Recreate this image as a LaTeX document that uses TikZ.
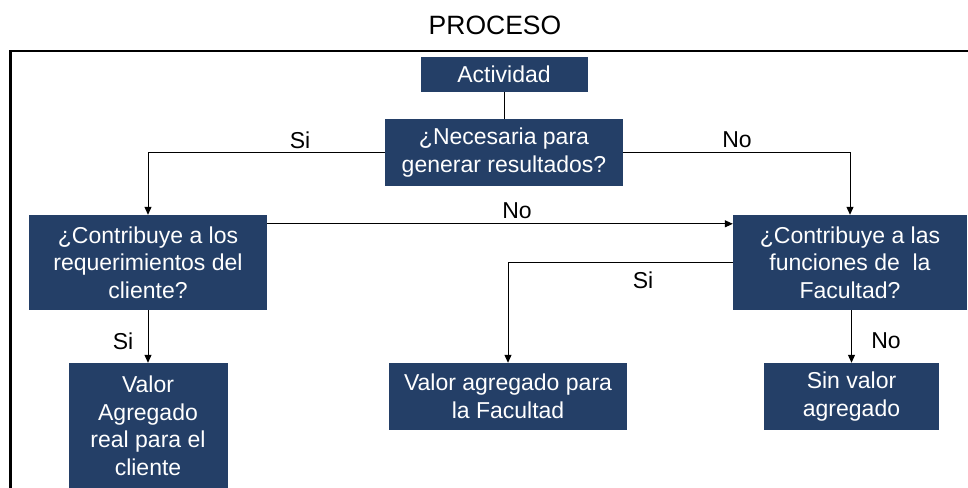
\documentclass[tikz,border=0pt]{standalone}
\usepackage{fontspec}
\setmainfont{Liberation Sans}
\usetikzlibrary{arrows.meta}
\definecolor{boxblue}{RGB}{36,63,103}
\begin{document}
\begin{tikzpicture}[x=1pt,y=-1pt,
  box/.style={draw=none,fill=boxblue,text=white,align=center,
    font=\fontsize{23}{27.5}\selectfont,inner sep=0pt},
  lbl/.style={font=\fontsize{23}{27.5}\selectfont,text=black,inner sep=0pt},
  conn/.style={draw=black,line width=1pt},
  arr/.style={conn,-{Triangle[length=8pt,width=7pt]}}]
\useasboundingbox (0,0) rectangle (968,487);
% title and frame
\node[font=\fontsize{26.5}{30}\selectfont,inner sep=0pt] (title) at (495,25) {PROCESO};
\draw[line width=2.5pt] (975,51) -- (10.5,51) -- (10.5,495);
% boxes
\node[box,minimum width=167pt,minimum height=35pt] (act) at (504,74.5) {Actividad};
\node[box,minimum width=238pt,minimum height=67pt] (nec) at (504,152.5) {¿Necesaria para\\generar resultados?};
\node[box,minimum width=238pt,minimum height=95pt] (cli) at (148,262.5) {¿Contribuye a los\\requerimientos del\\cliente?};
\node[box,minimum width=234pt,minimum height=95pt] (fac) at (850,262.5) {¿Contribuye a las\\funciones de\ \ la\\Facultad?};
\node[box,minimum width=159pt,minimum height=126pt] (vcli) at (148,426) {Valor\\Agregado\\real para el\\cliente};
\node[box,minimum width=238pt,minimum height=67pt] (vfac) at (508,396.5) {Valor agregado para\\la Facultad};
\node[box,minimum width=175pt,minimum height=67pt] (sin) at (851.5,396.5) {Sin valor\\agregado};
% connectors
\draw[conn] (act.south) -- (nec.north);
\draw[arr] (nec.west) -| (cli.north);
\draw[arr] (nec.east) -| (fac.north);
\draw[arr] ([yshift=-9pt]cli.north east) -- ([yshift=-9pt]cli.north east -| fac.west);
\draw[arr] (fac.west) -| (vfac.north);
\draw[arr] (cli.south) -- (vcli.north);
\draw[arr] (fac.south -| sin.north) -- (sin.north);
% labels
\node[lbl] (l1) at (300,140) {Si};
\node[lbl] (l2) at (737,140) {No};
\node[lbl] (l3) at (517,211) {No};
\node[lbl] (l4) at (643,280) {Si};
\node[lbl] (l5) at (123,341) {Si};
\node[lbl] (l6) at (886,341) {No};
\end{tikzpicture}
\end{document}
